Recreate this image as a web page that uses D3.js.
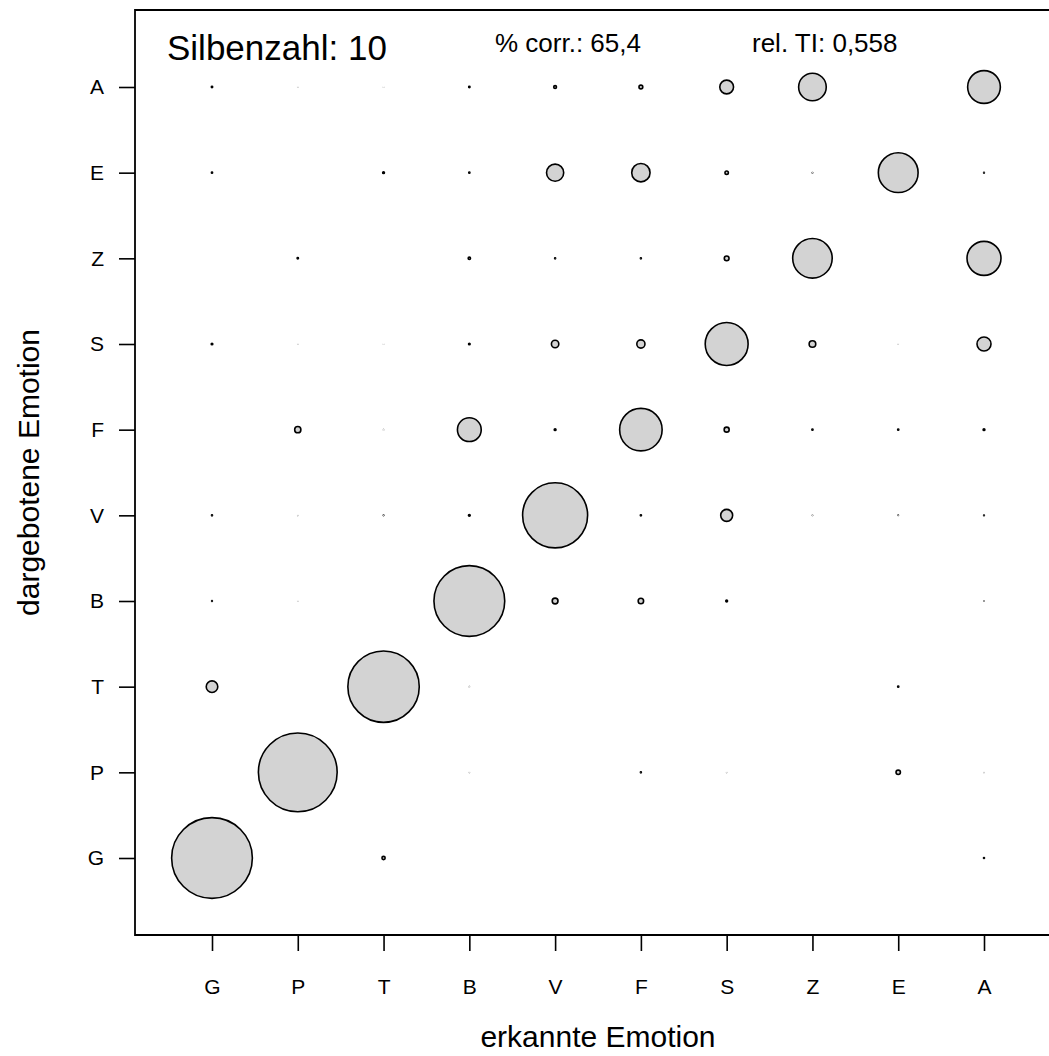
<!DOCTYPE html>
<html>
<head>
<meta charset="utf-8">
<script src="https://cdn.jsdelivr.net/npm/d3@7"></script>
<style>
  body { margin: 0; background: #fff; }
  svg { display: block; font-family: "Liberation Sans", Arial, Helvetica, sans-serif; }
</style>
</head>
<body>
<svg id="chart"></svg>
<script>
// recognised (columns) and presented (rows) share the same category order
const categories = ['G', 'P', 'T', 'B', 'V', 'F', 'S', 'Z', 'E', 'A'];

// percent of presented emotion recognised as each category (G..A)
const rowG = [95, 0, 3.8, 0, 0, 0, 0, 0, 0, 1.2];
const rowP = [0, 92.7, 0, 0.1, 0, 1.2, 0.1, 0, 5.2, 0.1];
const rowT = [13.6, 0, 84, 0.1, 0, 0, 0, 0, 1.4, 0];
const rowB = [0.9, 0.1, 0, 83.3, 6.8, 6.4, 2.1, 0, 0, 0.4];
const rowV = [1.2, 0.1, 0.6, 2.1, 76.5, 1.4, 14.1, 0.3, 0.5, 0.9];
const rowF = [0, 7.3, 0.1, 28, 2.1, 50, 5.9, 1.4, 1.4, 2.1];
const rowS = [1.9, 0.1, 0.1, 1.9, 8.7, 9.6, 50.5, 7.8, 0.1, 16.5];
const rowZ = [0, 1.6, 0, 2.8, 1.2, 1.2, 5.6, 46.5, 0, 40];
const rowE = [1.4, 0, 2.1, 1.4, 20.2, 21.6, 4, 0.5, 46.8, 0.9];
const rowA = [1.6, 0.1, 0.1, 1.6, 3.3, 4.5, 16.2, 32.5, 0, 38.5];

const rows = { G: rowG, P: rowP, T: rowT, B: rowB, V: rowV, F: rowF, S: rowS, Z: rowZ, E: rowE, A: rowA };

const headerLabels = ['Silbenzahl: 10', '% corr.: 65,4', 'rel. TI: 0,558'];
const xTitle = 'erkannte Emotion';
const yTitle = 'dargebotene Emotion';

const dim = { width: 1049, height: 1056 };
const box = { left: 135, top: 10, bottom: 935, right: 1049 };

const svg = d3.select('#chart')
  .attr('width', dim.width)
  .attr('height', dim.height);

const x = d3.scalePoint()
  .domain(categories)
  .range([212, 984]);

const y = d3.scalePoint()
  .domain(categories)
  .range([858, 87]);

const r = d3.scaleLinear()
  .domain([0, 100])
  .range([0, 42.5]);

const cells = [];
categories.forEach((pres) => {
  rows[pres].forEach((v, i) => {
    if (v > 0) cells.push({ pres, rec: categories[i], value: v });
  });
});

// bigger circles first so small ones stay on top
cells.sort((a, b) => b.value - a.value);

svg.append('g')
  .selectAll('circle')
  .data(cells)
  .join('circle')
  .attr('cx', (d) => x(d.rec))
  .attr('cy', (d) => y(d.pres))
  .attr('r', (d) => r(d.value))
  .attr('fill', '#d3d3d3')
  .attr('stroke', '#000')
  .attr('stroke-width', 1.6);

// frame: left, top and bottom lines
svg.append('path')
  .attr('d', `M${box.right},${box.top}H${box.left}V${box.bottom}H${box.right}`)
  .attr('fill', 'none')
  .attr('stroke', '#000')
  .attr('stroke-width', 1.8);

const xAxis = svg.append('g')
  .attr('transform', `translate(0,${box.bottom})`)
  .call(d3.axisBottom(x).tickSize(16).tickPadding(28));
xAxis.select('.domain').remove();

const yAxis = svg.append('g')
  .attr('transform', `translate(${box.left},0)`)
  .call(d3.axisLeft(y).tickSize(16).tickPadding(15));
yAxis.select('.domain').remove();

svg.selectAll('.tick line')
  .attr('stroke', '#000')
  .attr('stroke-width', 1.6);
svg.selectAll('.tick text')
  .attr('fill', '#000')
  .style('font-size', '21px')
  .style('font-family', '"Liberation Sans", Arial, Helvetica, sans-serif');

// header texts inside the frame
svg.append('text')
  .attr('x', 167)
  .attr('y', 60)
  .style('font-size', '35px')
  .text(headerLabels[0]);
svg.append('text')
  .attr('x', 495)
  .attr('y', 52)
  .style('font-size', '26px')
  .text(headerLabels[1]);
svg.append('text')
  .attr('x', 752)
  .attr('y', 52)
  .style('font-size', '26px')
  .text(headerLabels[2]);

// axis titles
svg.append('text')
  .attr('x', 598)
  .attr('y', 1047)
  .attr('text-anchor', 'middle')
  .style('font-size', '30px')
  .text(xTitle);

svg.append('text')
  .attr('transform', `translate(39,${(box.top + box.bottom) / 2}) rotate(-90)`)
  .attr('text-anchor', 'middle')
  .style('font-size', '30px')
  .text(yTitle);
</script>
</body>
</html>
